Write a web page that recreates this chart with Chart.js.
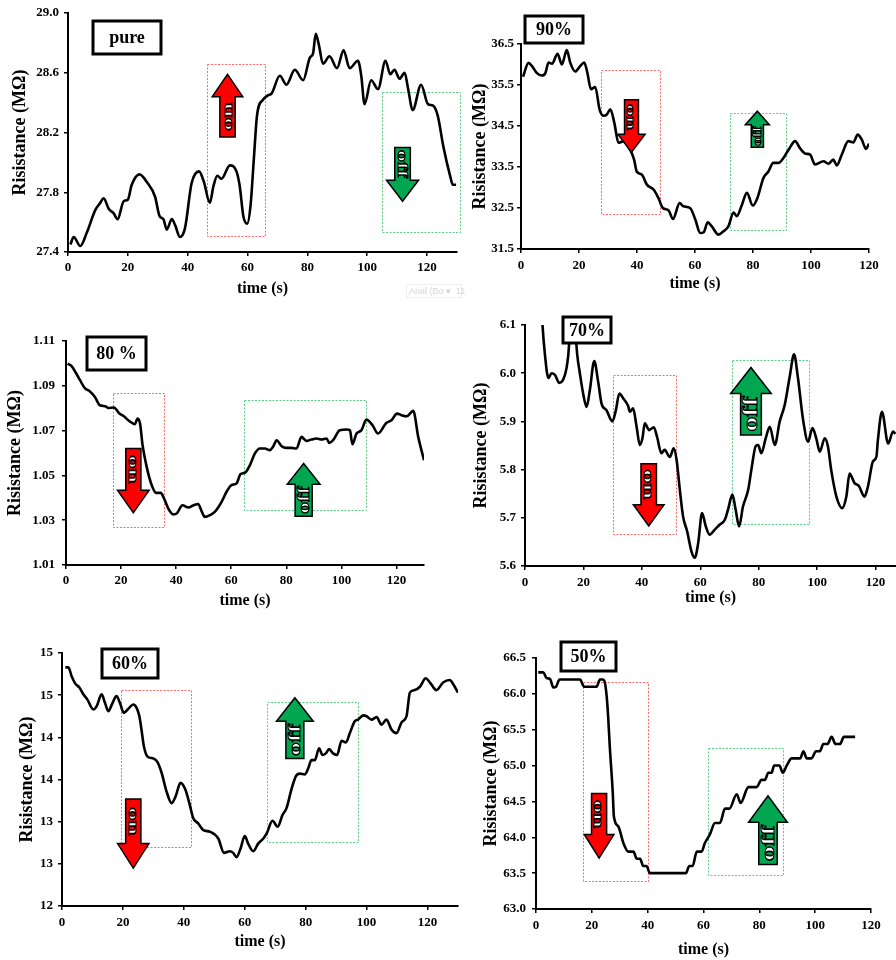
<!DOCTYPE html>
<html>
<head>
<meta charset="utf-8">
<script src="https://cdn.jsdelivr.net/npm/chart.js@4/dist/chart.umd.min.js"></script>
<style>
  body { margin: 0; background: #fff; width: 896px; height: 960px; position: relative; overflow: hidden; }
  canvas { position: absolute; }
</style>
</head>
<body>
<canvas id="pure" width="470" height="305" style="left:0;top:0"></canvas>
<canvas id="rh90" width="426" height="305" style="left:470px;top:0"></canvas>
<canvas id="rh80" width="450" height="325" style="left:0;top:305px"></canvas>
<canvas id="rh70" width="446" height="325" style="left:450px;top:305px"></canvas>
<canvas id="rh60" width="470" height="330" style="left:0;top:630px"></canvas>
<canvas id="rh50" width="426" height="330" style="left:470px;top:630px"></canvas>
<script>
// Valeurs : temps (s) et résistance (MΩ)
const pureTime = [0.8,1.9,4.1,6.3,9.1,10.8,11.9,13.6,15.2,16.6,18.6,20,21.3,23.9,26.3,29.1,30.6,31.9,33,34.7,35.8,37.4,39.1,41.3,43.8,45.4,47.4,48.6,49.9,51.3,54.1,56.3,57.4,58.6,59.9,61,62.1,63.2,65.2,66.9,68,70.8,73,75.8,78.6,80.8,81.9,82.8,83.9,85.2,87.4,89.9,92.1,94.1,96.9,98,99.1,101.3,103.6,106.1,107.7,109.1,110.8,112.5,113.6,115.2,118,120.3,122,123.6,125.4,127.7,128.6,129.7];
const pureRes = [27.45,27.50,27.44,27.53,27.68,27.73,27.76,27.69,27.66,27.62,27.74,27.75,27.85,27.92,27.87,27.77,27.64,27.62,27.55,27.62,27.58,27.50,27.56,27.86,27.94,27.87,27.73,27.84,27.91,27.89,27.98,27.94,27.84,27.64,27.59,27.71,28.02,28.32,28.42,28.45,28.46,28.58,28.52,28.62,28.55,28.70,28.73,28.86,28.78,28.66,28.71,28.63,28.75,28.63,28.68,28.58,28.39,28.55,28.49,28.68,28.59,28.62,28.56,28.60,28.50,28.35,28.52,28.39,28.38,28.31,28.11,27.91,27.85,27.85];

const rh90Time = [0.7,2.6,3.8,5.5,7.2,8.4,9.5,10.7,12.6,14.1,15.8,17,18.7,20.4,21.8,22.9,24.1,25.6,27.1,28.5,29.6,30.8,32.2,33.6,35.4,37.7,39,39.9,41.7,43.4,45.7,47.4,48.9,50.9,52.4,54.7,56,58.3,60.1,61.8,63,64.4,65.8,68.1,69.8,71.5,73.3,74.4,76.1,77.9,79.9,81.5,83.6,85.3,87,88.8,90.5,92.6,94.5,96.2,97.9,99.7,101.4,104.3,106,107.7,108.9,110.6,112.9,114.6,116.1,117.5,119,120];
const rh90Res = [35.70,36.04,35.96,35.79,35.73,35.79,36.05,36.02,36.26,36.00,36.35,36.04,35.83,35.96,36.05,35.79,35.40,35.45,34.90,34.75,34.78,34.91,34.57,34.09,34.13,33.91,33.68,33.39,33.31,33.07,32.95,32.74,32.50,32.44,32.23,32.62,32.54,32.50,32.22,31.89,31.91,32.15,32.05,31.85,31.93,32.05,32.39,32.30,32.56,32.87,32.56,32.74,33.23,33.39,33.60,33.60,33.72,33.96,34.13,33.96,33.83,33.80,33.56,33.64,33.58,33.68,33.54,33.80,34.13,34.10,34.29,34.17,33.94,34.07];

const rh80Time = [0.6,2.1,3.6,5.1,6.9,8.5,10.5,12.3,14.2,15.4,17.4,19.4,20.8,22.6,24.4,25,26,26.9,27.8,29.3,31.1,32.7,34.4,35.6,37.1,38.9,40.2,42.3,44.4,46.2,48,49.2,50.4,52.3,54.1,56.5,58.3,60.1,61.9,63.4,65,66.8,68.6,70.4,72.2,74,75.2,76.5,78.3,80.1,81.9,83.7,85.5,87.3,89.1,91,92.8,94.6,95.6,97,99.4,101.9,103.1,104,105.5,107.3,109.1,111.3,113.3,116.3,118.2,120.2,121.8,123.7,126.1,127.9,130];
const rh80Res = [1.0999,1.0987,1.0957,1.0925,1.0888,1.0877,1.0850,1.0813,1.0809,1.0801,1.0803,1.0776,1.0766,1.0746,1.0731,1.0729,1.0754,1.0731,1.0635,1.0538,1.0457,1.0422,1.0422,1.0397,1.0353,1.0326,1.0330,1.0367,1.0357,1.0366,1.0372,1.0342,1.0315,1.0323,1.0338,1.0382,1.0427,1.0457,1.0464,1.0506,1.0512,1.0546,1.0598,1.0620,1.0620,1.0613,1.0628,1.0657,1.0630,1.0623,1.0623,1.0620,1.0672,1.0654,1.0660,1.0665,1.0660,1.0665,1.0645,1.0657,1.0702,1.0705,1.0702,1.0639,1.0687,1.0702,1.0749,1.0724,1.0687,1.0734,1.0746,1.0776,1.0769,1.0764,1.0788,1.0672,1.0568];

const rh70Time = [4.5,6,6.8,8,9.1,10.3,11.7,13.1,14.2,14.8,16.3,17.9,18.8,19.9,21.1,22.2,23.7,25.1,26.2,27.9,29.9,31.1,32.3,33.6,35.3,35.9,37,38.2,39.3,40.2,41,42.5,44.1,45.2,46.7,47.8,49.6,50.9,51.9,53,54.1,55.5,57,58.1,59.3,60.6,61.9,63.2,64.9,66.7,68.4,69.5,71,72.1,73.3,74.6,76.4,77.5,79,79.8,80.9,82.4,83.8,85.5,87.2,88.9,90.6,92.1,93.4,95.2,96.9,98.4,99.7,100.9,102.6,103.7,104.8,106.6,108.6,110,111.1,112.8,114.3,116.2,117.4,119.1,120.3,120.8,122.2,124.3,126,126.8];
const rh70Res = [6.30,6.10,6.04,5.99,6.00,5.996,5.98,5.987,6.01,6.037,6.15,6.037,5.999,5.958,5.93,5.965,6.025,5.98,5.937,5.923,5.90,5.923,5.958,5.948,5.932,5.92,5.927,5.889,5.851,5.865,5.896,5.882,5.888,5.868,5.834,5.841,5.826,5.844,5.82,5.758,5.703,5.672,5.63,5.617,5.648,5.71,5.682,5.665,5.675,5.686,5.696,5.717,5.748,5.717,5.682,5.723,5.758,5.80,5.849,5.851,5.834,5.865,5.889,5.851,5.90,5.934,5.992,6.039,5.992,5.903,5.858,5.886,5.865,5.837,5.865,5.848,5.80,5.744,5.72,5.744,5.792,5.772,5.766,5.744,5.765,5.817,5.827,5.861,5.92,5.854,5.879,5.874];

const rh60Time = [1.1,2.1,3.2,4.3,5.7,7,8.3,10.3,11.4,13,14.1,15.2,16.5,17.9,19,20.3,21.8,23.4,24.5,25.4,26.1,26.9,28.1,30,31.3,32.7,34.3,36,37.3,38.9,40.4,41.8,43.1,44.7,46.4,48.6,51.3,53.2,55.1,56.2,57.3,58.6,60,61.1,62.8,64.4,66.1,67.2,69.1,70.8,72.4,73.7,75.3,76.8,78.1,79.7,80.8,81.9,83,84.4,85.5,86.6,87.7,89,90.3,91.8,93.2,94.5,96.1,97.2,98.9,100,101.6,103.3,104.9,106.5,108.2,109.8,111.5,113.1,114.2,115.8,117.5,119.4,120.8,122.9,125.1,127.3,128.6,130];
const rh60Res = [14.83,14.83,14.72,14.64,14.59,14.51,14.45,14.33,14.37,14.51,14.41,14.31,14.40,14.49,14.41,14.29,14.34,14.39,14.35,14.25,14.09,13.89,13.77,13.75,13.71,13.58,13.36,13.22,13.30,13.46,13.39,13.22,13.04,12.98,12.90,12.88,12.80,12.63,12.65,12.63,12.58,12.68,12.83,12.74,12.65,12.74,12.80,12.86,13.01,12.94,13.08,13.16,13.38,13.54,13.57,13.56,13.63,13.73,13.73,13.87,13.79,13.81,13.86,13.81,13.79,13.96,13.94,14.05,14.19,14.21,14.26,14.25,14.21,14.24,14.15,14.21,14.09,14.05,14.18,14.25,14.53,14.56,14.60,14.70,14.65,14.56,14.65,14.68,14.62,14.53];

const rh50Time = [0.8,2.6,3.8,5,6.2,7.2,8.4,9.8,15.8,17.2,21.7,22.9,23.9,24.7,25.6,26.5,27.5,27.9,29.5,31.3,33.1,34.9,36.1,37.3,38.4,39.6,40.8,53.7,54.9,56.1,57.6,59.3,60.5,62.3,64.1,65.9,67.7,69.3,71.9,73.3,76.1,79,80.8,82,83.2,84.4,85.3,87.2,88.4,89.8,91.6,94.6,95.8,97,98.7,100.3,101.7,102.9,104.4,105.9,107.3,108.9,110.3,114.3];
const rh50Res = [66.3,66.3,66.22,66.21,66.09,66.1,66.2,66.2,66.2,66.1,66.1,66.2,66.2,66.15,65.83,65.22,64.62,64.29,64.15,63.92,63.8,63.8,63.7,63.7,63.6,63.6,63.5,63.5,63.6,63.6,63.8,63.8,63.92,64.04,64.2,64.2,64.4,64.4,64.6,64.48,64.7,64.7,64.8,64.8,64.9,64.9,65.0,65.0,64.9,65.0,65.1,65.1,65.2,65.1,65.1,65.2,65.2,65.3,65.3,65.4,65.3,65.3,65.4,65.4];

const xTickLabels = [0, 20, 40, 60, 80, 100, 120];

const serif = '"Liberation Serif", "Times New Roman", serif';
const redFill = '#ff0000';
const greenFill = '#00a650';

// Mise en page de chaque graphique (pixels du canvas) + annotations (unités des axes)
const panels = {
  pure: { time: pureTime, res: pureRes, label: 'pure', left: 0, top: 0,
    yMin: 27.4, yMax: 29.0, yStep: 0.4, dec: 1, xMax: 130,
    yAxisW: 68, padTop: 13, padRight: 13, xAxisH: 53,
    yTickPad: 5, xTickPad: 4, yTitlePad: 9.2, xTitlePad: 6.4,
    labelBox: [93, 21, 161, 54],
    redBox: [46.3, 65.6, 28.66, 27.51], greenBox: [104.9, 131, 28.47, 27.53],
    redArrow: { x: 53.3, shaft: 2.55, head: 5.1, tail: 28.17, base: 28.44, tip: 28.59 },
    greenArrow: { x: 111.8, shaft: 2.6, head: 5.35, tail: 28.10, base: 27.88, tip: 27.74 },
    watermark: true },
  rh90: { time: rh90Time, res: rh90Res, label: '90%', left: 470, top: 0,
    yMin: 31.5, yMax: 36.5, yStep: 1, dec: 1, xMax: 120,
    yAxisW: 51, padTop: 44, padRight: 27, xAxisH: 56,
    yTickPad: 3, xTickPad: 5, yTitlePad: 0, xTitlePad: 11.4,
    labelBox: [55, 16, 113, 43],
    redBox: [27.6, 47.8, 35.86, 32.35], greenBox: [71.9, 91.2, 34.81, 31.95],
    redArrow: { x: 38.1, shaft: 2.4, head: 4.7, tail: 35.14, base: 34.30, tip: 33.86 },
    greenArrow: { x: 81.5, shaft: 2.1, head: 4.15, tail: 33.98, base: 34.53, tip: 34.86 } },
  rh80: { time: rh80Time, res: rh80Res, label: '80 %', left: 0, top: 305,
    yMin: 1.01, yMax: 1.11, yStep: 0.02, dec: 2, xMax: 130,
    yAxisW: 66, padTop: 36, padRight: 26, xAxisH: 65,
    yTickPad: 7, xTickPad: 4, yTitlePad: 4.2, xTitlePad: 19.4,
    labelBox: [87, 32, 146, 65],
    redBox: [17.2, 35.8, 1.0868, 1.0271], greenBox: [64.7, 109.1, 1.0838, 1.0348],
    redArrow: { x: 24.45, shaft: 2.75, head: 5.75, tail: 1.0620, base: 1.0434, tip: 1.0333 },
    greenArrow: { x: 86.3, shaft: 3.1, head: 5.95, tail: 1.0318, base: 1.0461, tip: 1.0553 } },
  rh70: { time: rh70Time, res: rh70Res, label: '70%', left: 450, top: 305,
    yMin: 5.6, yMax: 6.1, yStep: 0.1, dec: 1, xMax: 127,
    yAxisW: 75, padTop: 20, padRight: 0, xAxisH: 64,
    yTickPad: 5, xTickPad: 5, yTitlePad: 20.2, xTitlePad: 22.4,
    labelBox: [113, 12, 161, 38],
    redBox: [30, 51.5, 5.997, 5.667], greenBox: [71, 97.2, 6.027, 5.687],
    redArrow: { x: 42.35, shaft: 2.65, head: 5.25, tail: 5.812, base: 5.727, tip: 5.683 },
    greenArrow: { x: 77.35, shaft: 3.55, head: 6.95, tail: 5.872, base: 5.958, tip: 6.012 } },
  rh60: { time: rh60Time, res: rh60Res, label: '60%', left: 0, top: 630,
    yMin: 12, yMax: 15, yStep: 0.5, dec: 0, xMax: 130,
    yAxisW: 62, padTop: 23, padRight: 12, xAxisH: 54,
    yTickPad: 5, xTickPad: 5, yTitlePad: 16.2, xTitlePad: 8.4,
    labelBox: [102, 19, 158, 48],
    redBox: [19.3, 42.2, 14.56, 12.70], greenBox: [67.2, 97.2, 14.42, 12.76],
    redArrow: { x: 23.4, shaft: 2.5, head: 5.15, tail: 13.27, base: 12.74, tip: 12.45 },
    greenArrow: { x: 76.45, shaft: 2.95, head: 6.05, tail: 13.75, base: 14.19, tip: 14.47 } },
  rh50: { time: rh50Time, res: rh50Res, label: '50%', left: 470, top: 630,
    yMin: 63, yMax: 66.5, yStep: 0.5, dec: 1, xMax: 120,
    yAxisW: 66, padTop: 28, padRight: 25, xAxisH: 51,
    yTickPad: 6, xTickPad: 5, yTitlePad: 10.2, xTitlePad: 0.4,
    labelBox: [91, 12, 146, 41],
    redBox: [17, 40.2, 66.16, 63.38], greenBox: [61.7, 88.4, 65.25, 63.48],
    redArrow: { x: 22.6, shaft: 2.7, head: 5.3, tail: 64.61, base: 64.04, tip: 63.71 },
    greenArrow: { x: 83.1, shaft: 3.3, head: 6.95, tail: 63.62, base: 64.21, tip: 64.58 } }
};

function drawBox(ctx, xs, ys, b, color) {
  const x0 = xs.getPixelForValue(b[0]), x1 = xs.getPixelForValue(b[1]);
  const y0 = ys.getPixelForValue(b[2]), y1 = ys.getPixelForValue(b[3]);
  ctx.save();
  ctx.strokeStyle = color;
  ctx.lineWidth = 1;
  ctx.setLineDash([2, 1.5]);
  ctx.strokeRect(Math.round(x0) + 0.5, Math.round(y0) + 0.5, Math.round(x1 - x0), Math.round(y1 - y0));
  ctx.restore();
}

function drawArrow(ctx, xs, ys, a, color, word) {
  const cx = xs.getPixelForValue(a.x);
  const sh = xs.getPixelForValue(a.x + a.shaft) - cx;
  const hh = xs.getPixelForValue(a.x + a.head) - cx;
  const yTail = ys.getPixelForValue(a.tail);
  const yBase = ys.getPixelForValue(a.base);
  const yTip = ys.getPixelForValue(a.tip);
  ctx.save();
  ctx.beginPath();
  ctx.moveTo(cx - sh, yTail);
  ctx.lineTo(cx - sh, yBase);
  ctx.lineTo(cx - hh, yBase);
  ctx.lineTo(cx, yTip);
  ctx.lineTo(cx + hh, yBase);
  ctx.lineTo(cx + sh, yBase);
  ctx.lineTo(cx + sh, yTail);
  ctx.closePath();
  ctx.fillStyle = color;
  ctx.fill();
  ctx.strokeStyle = '#000';
  ctx.lineWidth = 1.5;
  ctx.lineJoin = 'miter';
  ctx.stroke();

  // texte "on"/"off" couché dans la tige, blanc cerné de noir
  const up = yTip < yTail;
  const size = Math.round(sh * 2 * 0.95);
  ctx.font = 'bold ' + size + 'px ' + serif;
  const tw = ctx.measureText(word).width;
  const len = Math.abs(yTail - yBase);
  const stretch = Math.min(1.9, (len * 0.85) / tw);
  ctx.translate(cx, (yTail + yBase) / 2);
  ctx.rotate(up ? -Math.PI / 2 : Math.PI / 2);
  ctx.scale(stretch, 1);
  ctx.textAlign = 'center';
  ctx.textBaseline = 'middle';
  ctx.lineWidth = 1;
  ctx.strokeStyle = '#000';
  ctx.fillStyle = '#fff';
  ctx.fillText(word, 0, 1);
  ctx.strokeText(word, 0, 1);
  ctx.restore();
}

const figurePlugin = {
  id: 'figure',
  beforeDatasetsDraw(chart) {
    const p = panels[chart.canvas.id];
    const ctx = chart.ctx;
    drawBox(ctx, chart.scales.x, chart.scales.y, p.redBox, '#ff6b6b');
    drawBox(ctx, chart.scales.x, chart.scales.y, p.greenBox, '#5ccf85');
  },
  afterDatasetsDraw(chart) {
    const p = panels[chart.canvas.id];
    const ctx = chart.ctx;
    const xs = chart.scales.x, ys = chart.scales.y;
    drawArrow(ctx, xs, ys, p.redArrow, redFill, 'on');
    drawArrow(ctx, xs, ys, p.greenArrow, greenFill, 'off');

    // étiquette encadrée
    const [bx0, by0, bx1, by1] = p.labelBox;
    ctx.save();
    ctx.fillStyle = '#fff';
    ctx.fillRect(bx0, by0, bx1 - bx0, by1 - by0);
    ctx.strokeStyle = '#000';
    ctx.lineWidth = 3;
    ctx.strokeRect(bx0, by0, bx1 - bx0, by1 - by0);
    ctx.fillStyle = '#000';
    ctx.font = 'bold 18px ' + serif;
    ctx.textAlign = 'center';
    ctx.textBaseline = 'middle';
    ctx.fillText(p.label, (bx0 + bx1) / 2, (by0 + by1) / 2 + 1);

    if (p.watermark) {
      ctx.strokeStyle = '#eeeeee';
      ctx.lineWidth = 1;
      ctx.strokeRect(406.5, 284.5, 55, 13);
      ctx.fillStyle = '#d4d4d4';
      ctx.font = '9px "Liberation Sans", sans-serif';
      ctx.textAlign = 'left';
      ctx.fillText('Arial (Bo \u25BE  11', 409, 291.5);
    }
    ctx.restore();
  }
};

function initPanel(id) {
  const p = panels[id];
  const canvas = document.getElementById(id);
  const tickFont = { family: serif, size: 13, weight: 'bold' };
  const titleFont = { family: serif, size: 16, weight: 'bold' };
  new Chart(canvas, {
    type: 'line',
    data: {
      datasets: [{
        data: p.time.map((t, i) => ({ x: t, y: p.res[i] })),
        borderColor: '#000',
        borderWidth: 2.6,
        pointRadius: 0,
        cubicInterpolationMode: 'monotone',
        fill: false
      }]
    },
    options: {
      responsive: false,
      animation: false,
      devicePixelRatio: 1,
      layout: { padding: { left: 0, top: p.padTop, right: p.padRight, bottom: 0 } },
      plugins: { legend: { display: false }, tooltip: { enabled: false } },
      scales: {
        x: {
          type: 'linear',
          min: 0,
          max: p.xMax,
          afterBuildTicks: (s) => { s.ticks = xTickLabels.map(v => ({ value: v })); },
          afterFit: (s) => { s.height = p.xAxisH; },
          ticks: { stepSize: 20, padding: p.xTickPad, color: '#000', font: tickFont, maxRotation: 0, autoSkip: false },
          grid: { drawOnChartArea: false, tickLength: 4, color: '#000', lineWidth: 1.5 },
          border: { color: '#000', width: 2 },
          title: { display: true, text: 'time (s)', color: '#000', font: titleFont, padding: { top: 0, bottom: p.xTitlePad } }
        },
        y: {
          type: 'linear',
          min: p.yMin,
          max: p.yMax,
          afterFit: (s) => { s.width = p.yAxisW; },
          ticks: {
            stepSize: p.yStep,
            padding: p.yTickPad,
            color: '#000',
            font: tickFont,
            callback: (v) => p.dec === 0 ? String(Math.round(v)) : Number(v).toFixed(p.dec)
          },
          grid: { drawOnChartArea: false, tickLength: 4, color: '#000', lineWidth: 1.5 },
          border: { color: '#000', width: 2 },
          title: { display: true, text: 'Risistance (MΩ)', color: '#000', font: { family: serif, size: 18, weight: 'bold' }, padding: { top: p.yTitlePad, bottom: 0 } }
        }
      }
    },
    plugins: [figurePlugin]
  });
}

document.addEventListener('DOMContentLoaded', () => {
  Object.keys(panels).forEach(initPanel);
});
</script>
</body>
</html>
